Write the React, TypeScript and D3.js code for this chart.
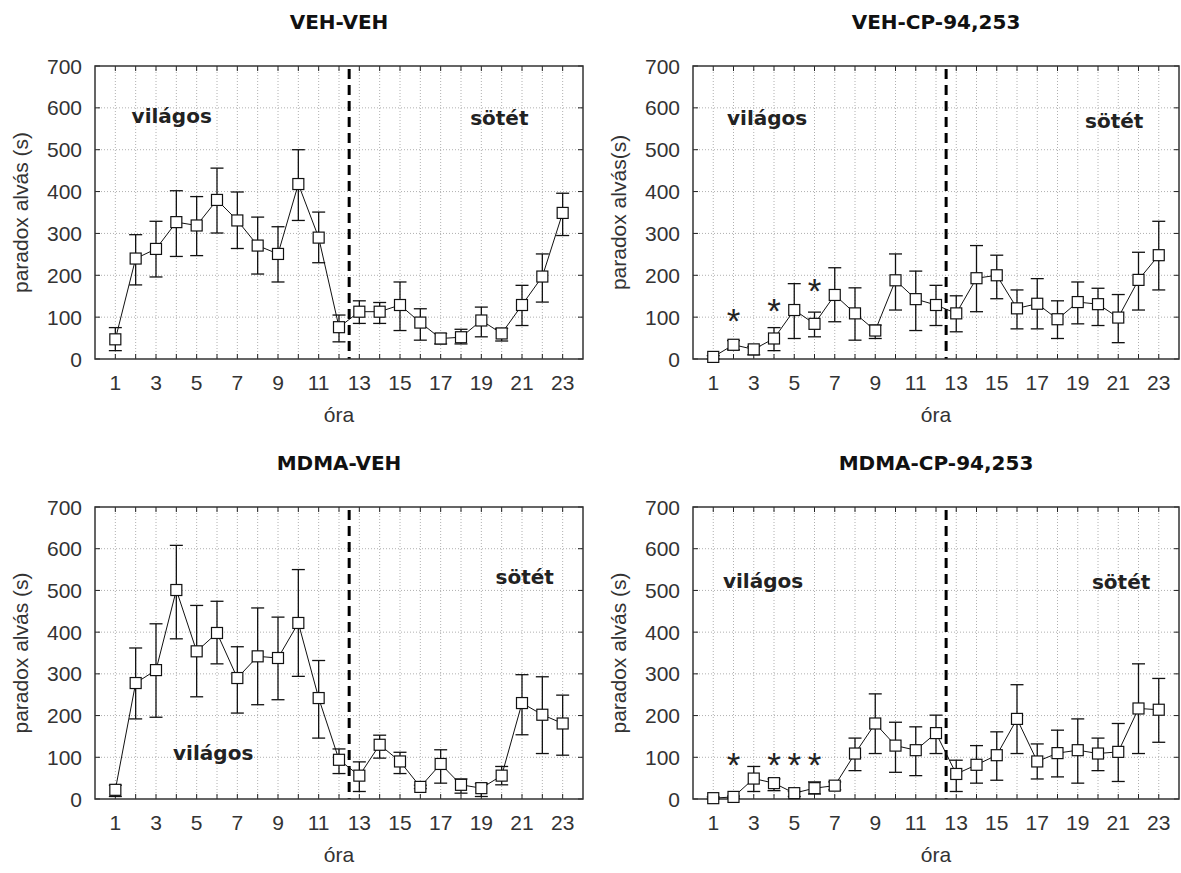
import React from "react";
import * as d3 from "d3";

const hours = d3.range(1, 24);
const xTicks = [1, 3, 5, 7, 9, 11, 13, 15, 17, 19, 21, 23];
const yTicks = [0, 100, 200, 300, 400, 500, 600, 700];

const titles = ["VEH-VEH", "VEH-CP-94,253", "MDMA-VEH", "MDMA-CP-94,253"];
const yTitles = ["paradox alvás (s)", "paradox alvás(s)", "paradox alvás (s)", "paradox alvás (s)"];

const vehVehMean = [47, 240, 263, 327, 319, 380, 331, 271, 251, 418, 290, 76, 113, 113, 129, 87, 49, 52, 92, 61, 129, 197, 349];
const vehVehUp = [75, 297, 329, 402, 388, 456, 399, 339, 316, 500, 351, 105, 139, 135, 184, 120, 61, 71, 124, 73, 176, 251, 396];
const vehVehLo = [20, 177, 196, 245, 247, 301, 264, 203, 184, 331, 230, 41, 85, 85, 68, 45, 36, 36, 53, 43, 80, 136, 295];

const vehCpMean = [5, 34, 23, 49, 117, 84, 153, 109, 68, 188, 143, 129, 109, 193, 200, 121, 132, 95, 136, 131, 99, 189, 248];
const vehCpUp = [8, 44, 30, 75, 180, 112, 218, 170, 81, 251, 210, 176, 151, 271, 248, 165, 192, 139, 184, 169, 154, 255, 329];
const vehCpLo = [0, 22, 10, 20, 49, 53, 89, 45, 49, 117, 68, 80, 65, 113, 144, 72, 72, 49, 84, 80, 39, 117, 165];

const mdmaVehMean = [22, 278, 309, 501, 354, 398, 290, 342, 338, 422, 242, 94, 56, 130, 90, 29, 84, 34, 26, 56, 230, 202, 181];
const mdmaVehUp = [33, 362, 420, 608, 464, 474, 365, 458, 436, 550, 332, 120, 89, 153, 112, 33, 118, 48, 37, 78, 298, 293, 249];
const mdmaVehLo = [6, 192, 196, 384, 245, 324, 206, 226, 238, 294, 146, 61, 18, 98, 61, 25, 38, 14, 6, 34, 154, 109, 105];

const mdmaCpMean = [2, 5, 49, 38, 14, 26, 32, 109, 181, 128, 117, 158, 60, 82, 105, 192, 90, 110, 117, 109, 113, 217, 214];
const mdmaCpUp = [5, 7, 78, 48, 18, 41, 41, 146, 252, 184, 173, 201, 93, 128, 161, 274, 132, 165, 192, 146, 181, 324, 289];
const mdmaCpLo = [0, 2, 18, 20, 6, 12, 22, 68, 109, 64, 56, 109, 18, 38, 45, 109, 48, 53, 38, 68, 42, 109, 136];

const vehCpStarHours = [2, 4, 6];
const vehCpStarValues = [110, 134, 182];
const mdmaCpStarHours = [2, 4, 5, 6];
const mdmaCpStarValues = [100, 100, 100, 100];

// label anchors: hour of left edge, value at baseline
const lightLabelPos = [
  { x: 1.8, v: 564 },
  { x: 1.68, v: 559 },
  { x: 3.84, v: 93 },
  { x: 1.48, v: 506 },
];
const darkLabelPos = [
  { x: 18.45, v: 559 },
  { x: 19.36, v: 552 },
  { x: 19.7, v: 515 },
  { x: 19.7, v: 503 },
];

const panels = [
  { mean: vehVehMean, up: vehVehUp, lo: vehVehLo, stars: null as null | { h: number[]; v: number[] } },
  { mean: vehCpMean, up: vehCpUp, lo: vehCpLo, stars: { h: vehCpStarHours, v: vehCpStarValues } },
  { mean: mdmaVehMean, up: mdmaVehUp, lo: mdmaVehLo, stars: null as null | { h: number[]; v: number[] } },
  { mean: mdmaCpMean, up: mdmaCpUp, lo: mdmaCpLo, stars: { h: mdmaCpStarHours, v: mdmaCpStarValues } },
];

const boxes = [
  { x0: 95, x1: 583, y0: 66, y1: 359 },
  { x0: 693, x1: 1179, y0: 66, y1: 359 },
  { x0: 95, x1: 583, y0: 507, y1: 799 },
  { x0: 693, x1: 1179, y0: 507, y1: 799 },
];

const FONT = "'Liberation Sans', Arial, sans-serif";
const BOLD = "'DejaVu Sans', Verdana, sans-serif";

function Panel({ idx }: { idx: number }) {
  const b = boxes[idx];
  const p = panels[idx];
  const x = d3.scaleLinear().domain([0, 24]).range([b.x0, b.x1]);
  const y = d3.scaleLinear().domain([0, 700]).range([b.y1, b.y0]);
  const pts = hours.map((h, i) => [h, p.mean[i]] as [number, number]);
  const line = d3.line<[number, number]>().x((d) => x(d[0])).y((d) => y(d[1]));
  const cx = (b.x0 + b.x1) / 2;
  const cy = (b.y0 + b.y1) / 2;
  const tick = 5;
  const sq = 11;
  const cap = 6.5;
  return (
    <g>
      <text x={cx} y={b.y0 - 37} textAnchor="middle" fontFamily={BOLD} fontWeight="bold" fontSize={20} fill="#111">
        {titles[idx]}
      </text>
      {/* grid */}
      {hours.map((h) => (
        <line key={"gx" + h} x1={x(h)} x2={x(h)} y1={b.y0} y2={b.y1} stroke="#b0b0b0" strokeWidth={1} strokeDasharray="1,2" />
      ))}
      {yTicks.slice(1, -1).map((v) => (
        <line key={"gy" + v} x1={b.x0} x2={b.x1} y1={y(v)} y2={y(v)} stroke="#b0b0b0" strokeWidth={1} strokeDasharray="1,2" />
      ))}
      {/* ticks inward */}
      {hours.map((h) => (
        <g key={"tx" + h}>
          <line x1={x(h)} x2={x(h)} y1={b.y0} y2={b.y0 + tick} stroke="#222" />
          <line x1={x(h)} x2={x(h)} y1={b.y1} y2={b.y1 - tick} stroke="#222" />
        </g>
      ))}
      {yTicks.map((v) => (
        <g key={"ty" + v}>
          <line x1={b.x0} x2={b.x0 + tick} y1={y(v)} y2={y(v)} stroke="#222" />
          <line x1={b.x1} x2={b.x1 - tick} y1={y(v)} y2={y(v)} stroke="#222" />
        </g>
      ))}
      {/* dashed divider */}
      <line x1={x(12.5)} x2={x(12.5)} y1={b.y0 + 3} y2={b.y1} stroke="#000" strokeWidth={3} strokeDasharray="10,6" />
      {/* frame */}
      <rect x={b.x0} y={b.y0} width={b.x1 - b.x0} height={b.y1 - b.y0} fill="none" stroke="#333" strokeWidth={1.5} />
      {/* tick labels */}
      {xTicks.map((h) => (
        <text key={"xl" + h} x={x(h)} y={b.y1 + 31} textAnchor="middle" fontFamily={FONT} fontSize={21} fill="#333">
          {h}
        </text>
      ))}
      {yTicks.map((v) => (
        <text key={"yl" + v} x={b.x0 - 13} y={y(v) + 7.5} textAnchor="end" fontFamily={FONT} fontSize={21} fill="#333">
          {v}
        </text>
      ))}
      <text x={cx} y={b.y1 + 63} textAnchor="middle" fontFamily={FONT} fontSize={21} fill="#333">
        óra
      </text>
      <text
        transform={`translate(${b.x0 - 67},${cy}) rotate(-90)`}
        textAnchor="middle"
        fontFamily={FONT}
        fontSize={21}
        fill="#333"
      >
        {yTitles[idx]}
      </text>
      {/* labels */}
      <text x={x(lightLabelPos[idx].x)} y={y(lightLabelPos[idx].v)} fontFamily={BOLD} fontWeight="bold" fontSize={20} fill="#222">
        világos
      </text>
      <text x={x(darkLabelPos[idx].x)} y={y(darkLabelPos[idx].v)} fontFamily={BOLD} fontWeight="bold" fontSize={20} fill="#222">
        sötét
      </text>
      {/* line */}
      <path d={line(pts) || ""} fill="none" stroke="#111" strokeWidth={1} />
      {/* error bars */}
      {hours.map((h, i) => (
        <g key={"e" + h} stroke="#111" strokeWidth={1.3}>
          <line x1={x(h)} x2={x(h)} y1={y(p.up[i])} y2={y(p.lo[i])} />
          <line x1={x(h) - cap} x2={x(h) + cap} y1={y(p.up[i])} y2={y(p.up[i])} />
          <line x1={x(h) - cap} x2={x(h) + cap} y1={y(p.lo[i])} y2={y(p.lo[i])} />
        </g>
      ))}
      {hours.map((h, i) => (
        <rect key={"m" + h} x={x(h) - sq / 2} y={y(p.mean[i]) - sq / 2} width={sq} height={sq} fill="#fff" stroke="#111" strokeWidth={1.2} />
      ))}
      {p.stars &&
        p.stars.h.map((h, i) => (
          <text key={"s" + h} x={x(h)} y={y(p.stars!.v[i]) + 20} textAnchor="middle" fontFamily={FONT} fontSize={35} fill="#222">
            *
          </text>
        ))}
    </g>
  );
}

export default function App() {
  return (
    <svg width={1181} height={873} style={{ position: "absolute", left: 0, top: 0, background: "#fff" }}>
      <rect x={0} y={0} width={1181} height={873} fill="#fff" />
      {[0, 1, 2, 3].map((i) => (
        <Panel key={i} idx={i} />
      ))}
    </svg>
  );
}
